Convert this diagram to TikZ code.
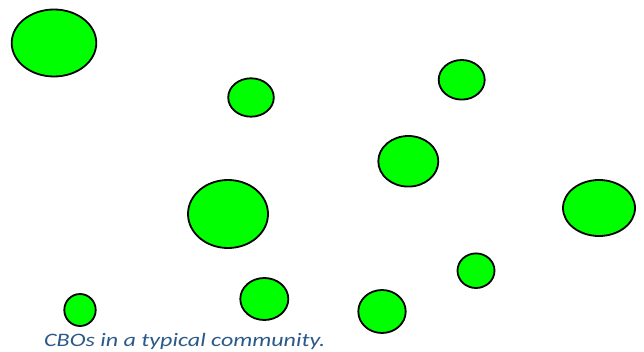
\documentclass[tikz,border=0pt]{standalone}
\usepackage{graphicx}
\usepackage{fontspec}
\setmainfont{Carlito}
\definecolor{cbogreen}{HTML}{00FF00}
\definecolor{capblue}{HTML}{2B5A8A}
\tikzset{
  cbo/.style={draw=black, line width=1.8pt, fill=cbogreen},
  captext/.style={font=\fontsize{19}{21}\selectfont\itshape, text=capblue, inner sep=0pt, anchor=base west}
}
\begin{document}
\begin{tikzpicture}[x=1pt,y=-1pt]
\useasboundingbox (0,0) rectangle (644,352);
\fill[white] (0,0) rectangle (644,352);
\path[cbo] (54,43) coordinate (c1) ellipse [x radius=42.3, y radius=33.5];
\path[cbo] (251,97.5) coordinate (c2) ellipse [x radius=22.8, y radius=19.2];
\path[cbo] (461.7,79.8) coordinate (c3) ellipse [x radius=23, y radius=19.8];
\path[cbo] (408.3,161.3) coordinate (c4) ellipse [x radius=30, y radius=25.3];
\path[cbo] (228,214) coordinate (c5) ellipse [x radius=40, y radius=34];
\path[cbo] (599,208) coordinate (c6) ellipse [x radius=36, y radius=28];
\path[cbo] (476,270.7) coordinate (c7) ellipse [x radius=18.5, y radius=17.3];
\path[cbo] (264.3,299) coordinate (c8) ellipse [x radius=24, y radius=21];
\path[cbo] (382,311.5) coordinate (c9) ellipse [x radius=23.7, y radius=21.5];
\path[cbo] (80,310) coordinate (c10) ellipse [x radius=15.7, y radius=16];
\node[captext] (cap) at (44,346.7) {\scalebox{1.265}[1]{CBOs in a typical community.}};
\end{tikzpicture}
\end{document}
